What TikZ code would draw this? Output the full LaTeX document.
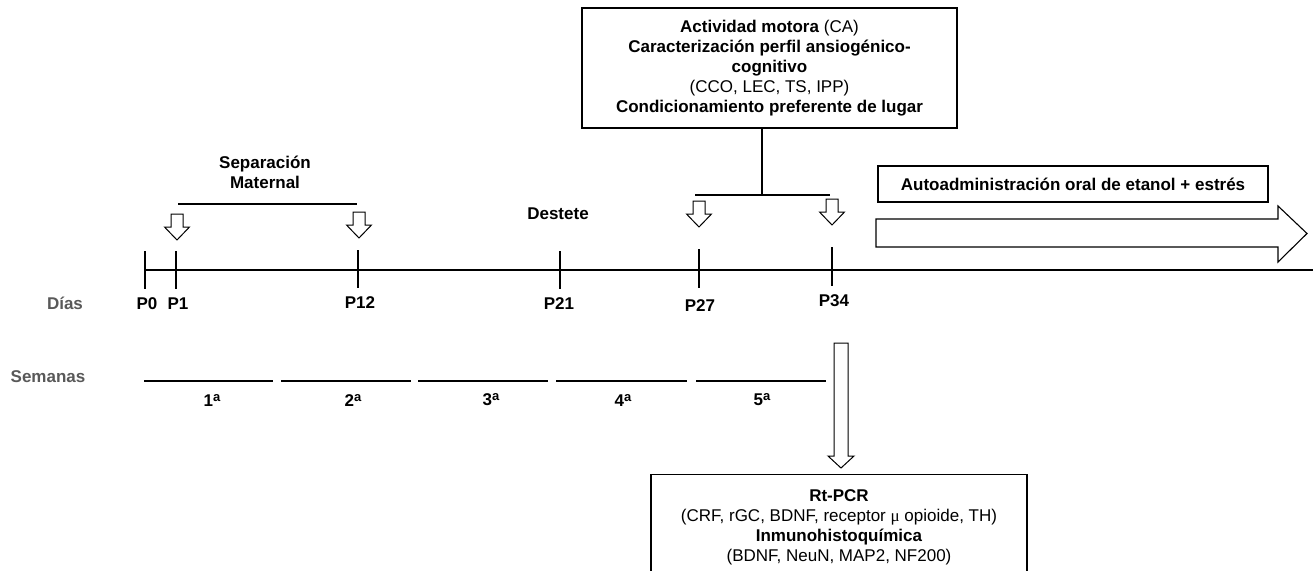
\documentclass[tikz,border=0pt]{standalone}
\usepackage{fontspec}
\setmainfont{Liberation Sans}
\newfontfamily\mufont{Liberation Serif}
\definecolor{labgray}{HTML}{595959}
\newcommand{\ordA}{\raisebox{5pt}{\fontsize{13}{13}\selectfont\bfseries a}}
\begin{document}
\begin{tikzpicture}[x=1pt,y=-1pt,
  txt/.style={font=\fontsize{17}{20}\selectfont, inner sep=0pt, align=center},
  bld/.style={font=\fontsize{17}{20}\selectfont\bfseries, inner sep=0pt, align=center},
  gr/.style={bld, text=labgray},
  ln/.style={line width=1.3pt},
  boxst/.style={draw, line width=1.3pt, font=\fontsize{17}{20}\selectfont, align=center},
  hollow/.style={draw, line width=1pt, fill=white, line join=miter},
  hollowdown/.pic={\draw[hollow] (-6,0) -- (6,0) -- (6,13) -- (12.5,13) -- (0,26) -- (-12.5,13) -- (-6,13) -- cycle;}
]
\useasboundingbox (0,0) rectangle (1313,570);
\clip (0,0) rectangle (1313,570);

% top box
\node[boxst, minimum width=375pt, minimum height=120pt, inner sep=0pt] (topbox) at (769.5,68)
  {\textbf{Actividad motora} (CA)\\ \textbf{Caracterización perfil ansiogénico-}\\ \textbf{cognitivo}\\ (CCO, LEC, TS, IPP)\\ \textbf{Condicionamiento preferente de lugar}};
\coordinate (br) at (762,195);
\coordinate (brl) at (695,195);
\coordinate (brr) at (830,195);
\draw[ln] (topbox.south -| br) -- (br);
\draw[ln] (brl) -- (brr);

% separacion maternal
\node[bld] (sep) at (265,172) {Separación\\Maternal};
\coordinate (sml) at (178,204);
\coordinate (smr) at (357,204);
\draw[ln] (sml) -- (smr);

% hollow arrows
\pic at (177,214) {hollowdown};
\pic at (359,212) {hollowdown};
\pic at (699,201) {hollowdown};
\pic at (832,199) {hollowdown};

% timeline
\coordinate (tl0) at (145,270);
\coordinate (tl1) at (1313,270);
\draw[ln] (tl0) -- (tl1);
\draw[ln] (145,251) -- (145,289);
\draw[ln] (176,251) -- (176,289);
\draw[ln] (358,250) -- (358,288);
\draw[ln] (560,251) -- (560,289);
\draw[ln] (699,249) -- (699,288);
\draw[ln] (832,247) -- (832,286);

\node[bld] (destete) at (558,214) {Destete};

\node[gr] (dias) at (65,303) {Días};
\node[bld] (p0) at (147,304) {P0};
\node[bld] (p1) at (178,304) {P1};
\node[bld] (p12) at (360,303) {P12};
\node[bld] (p21) at (559,304) {P21};
\node[bld] (p27) at (700,306) {P27};
\node[bld] (p34) at (834,301) {P34};

% autoadministracion
\node[boxst, minimum width=390pt, minimum height=36pt, inner sep=0pt, font=\fontsize{17}{20}\selectfont\bfseries] (auto) at (1073,184)
  {Autoadministración oral de etanol + estrés};
\draw[hollow, line width=1.1pt] (876,219) -- (1278,219) -- (1278,206) -- (1307,233.5) -- (1278,262) -- (1278,247) -- (876,247) -- cycle;

% semanas
\node[gr] (sem) at (48,377) {Semanas};
\draw[ln] (144,381) -- (273,381);
\draw[ln] (281,381) -- (411,381);
\draw[ln] (418,381) -- (548,381);
\draw[ln] (556,381) -- (687,381);
\draw[ln] (696,381) -- (826,381);
\node[bld] (w1) at (212,400) {1\ordA};
\node[bld] (w2) at (353,400) {2\ordA};
\node[bld] (w3) at (491,400) {3\ordA};
\node[bld] (w4) at (623,400) {4\ordA};
\node[bld] (w5) at (762,400) {5\ordA};

% long arrow to analysis box
\draw[hollow] (834,343) -- (848,343) -- (848,456) -- (854,456) -- (841,468) -- (828,456) -- (834,456) -- cycle;

% bottom box
\node[boxst, anchor=north, minimum width=376pt, inner xsep=0pt, inner ysep=15pt] (botbox) at (839,474)
  {\textbf{Rt-PCR}\\ (CRF, rGC, BDNF, receptor {\mufont μ} opioide, TH)\\ \textbf{Inmunohistoquímica}\\ (BDNF, NeuN, MAP2, NF200)};
\end{tikzpicture}
\end{document}
